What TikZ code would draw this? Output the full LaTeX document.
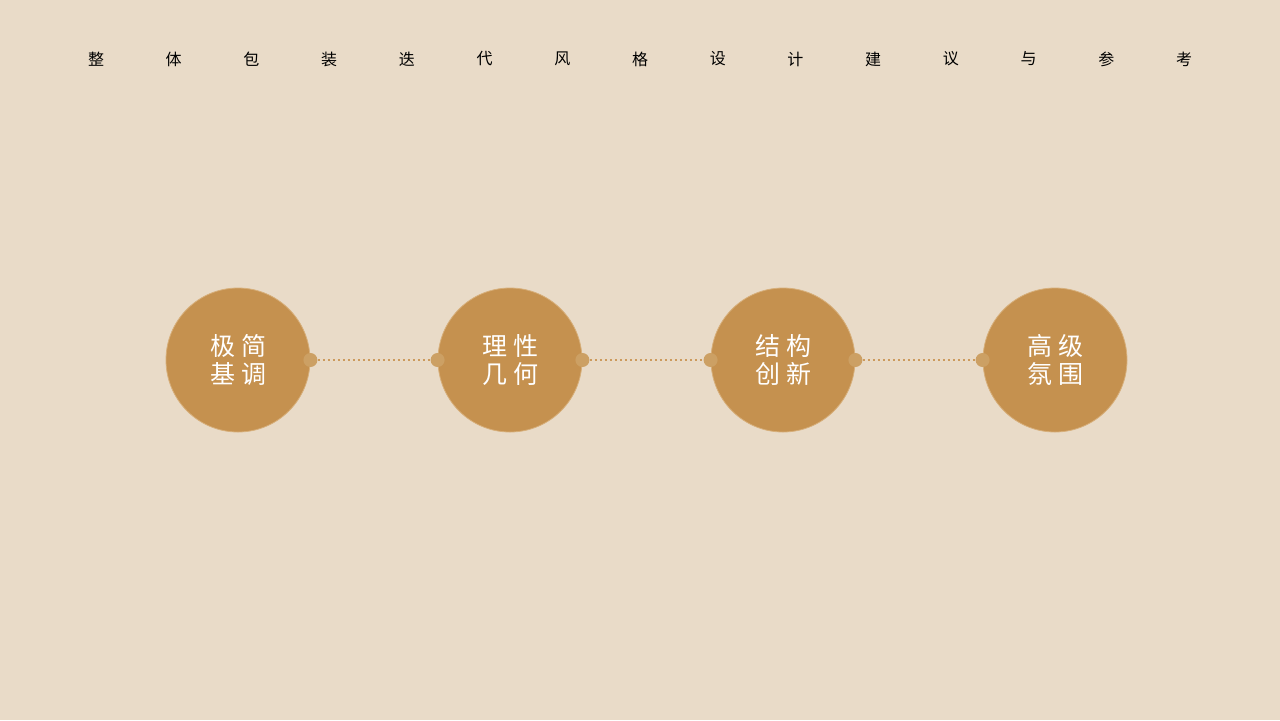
\documentclass[tikz,border=0pt]{standalone}
\usepackage{fontspec}
\setmainfont{Noto Sans CJK SC}
\usetikzlibrary{positioning}
\definecolor{bgcol}{HTML}{E9DBC8}
\definecolor{discol}{HTML}{C5914F}
\definecolor{ringcol}{HTML}{D7AF7A}
\definecolor{knobcol}{HTML}{CCA064}
\definecolor{linkcol}{HTML}{CC9A5C}

\tikzset{
  stage/.style={circle, fill=discol, draw=ringcol, line width=0.4pt,
    minimum size=72pt, inner sep=0pt, text=white, align=center,
    font=\fontsize{12.5pt}{14pt}\selectfont},
  knob/.style={circle, fill=knobcol, minimum size=7pt, inner sep=0pt},
  link/.style={draw=linkcol, line width=1pt, dash pattern=on 1pt off 1.5pt},
  headchar/.style={font=\fontsize{8pt}{8pt}\selectfont, text=black}
}

\begin{document}
\begin{tikzpicture}[x=0.5pt, y=-0.5pt]
        % Background and page size
        \fill[bgcol] (0,0) rectangle (1280,720);
        \useasboundingbox (0,0) rectangle (1280,720);

        % Spaced title
        \foreach \ch [count=\i from 0] in {整,体,包,装,迭,代,风,格,设,计,建,议,与,参,考}
            \node[headchar] (h\i) at (96+77.72*\i,59) {\ch};

        % The four stages
        \node[stage] (s1) at (238,360) {极\hspace{3pt}简\\基\hspace{3pt}调};
        \node[stage] (s2) at (510,360) {理\hspace{3pt}性\\几\hspace{3pt}何};
        \node[stage] (s3) at (783,360) {结\hspace{3pt}构\\创\hspace{3pt}新};
        \node[stage] (s4) at (1055,360) {高\hspace{3pt}级\\氛\hspace{3pt}围};

        % Knobs on the rims and dotted links
        \node[knob] (s1r) at (s1.east) {};
        \node[knob] (s2l) at (s2.west) {};
        \node[knob] (s2r) at (s2.east) {};
        \node[knob] (s3l) at (s3.west) {};
        \node[knob] (s3r) at (s3.east) {};
        \node[knob] (s4l) at (s4.west) {};
        \draw[link] (s1r) -- (s2l);
        \draw[link] (s2r) -- (s3l);
        \draw[link] (s3r) -- (s4l);
    \end{tikzpicture}
\end{document}
